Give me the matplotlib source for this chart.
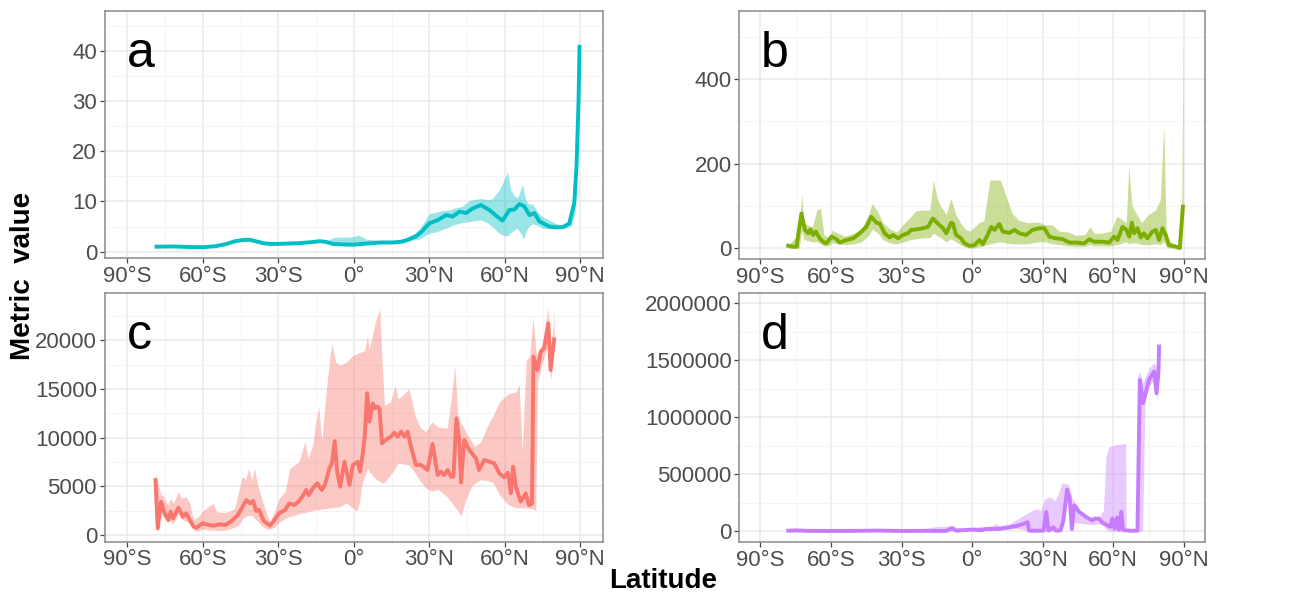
import numpy as np
import matplotlib
matplotlib.use("Agg")
import matplotlib.pyplot as plt
from matplotlib.ticker import FixedLocator, FuncFormatter
from matplotlib.transforms import blended_transform_factory

plt.rcParams['font.family'] = ['Liberation Sans', 'DejaVu Sans']

# ---- panel a (cyan) ----
a_lat = [-78.4, -72, -66, -60, -55, -51, -47, -44, -41.5, -39, -36, -33, -28, -22, -17,
         -13.5, -11, -8.2, -4, -0.3, 3, 7, 11.5, 16, 19, 21, 23, 24.8, 27, 30, 33.4,
         36.7, 39.3, 42, 44.6, 47.2, 50.5, 53.9, 57, 59.1, 61.8, 63.8, 65.8, 67.8, 69.8,
         71.8, 73.8, 77.8, 81, 83, 85.6, 87.6, 88.5, 89.3, 89.7]
a_mean = [1.0, 1.05, 0.95, 0.9, 1.1, 1.5, 2.1, 2.35, 2.4, 2.1, 1.7, 1.55, 1.6, 1.7, 1.9,
          2.1, 1.95, 1.55, 1.45, 1.4, 1.55, 1.7, 1.85, 1.85, 2.0, 2.3, 2.7, 3.1, 4.0, 5.65, 6.3,
          7.3, 7.0, 8.0, 7.7, 8.6, 9.3, 8.3, 7.0, 6.2, 8.3, 8.4, 9.5, 9.0, 7.3,
          7.7, 6.0, 5.0, 4.85, 4.9, 5.6, 9.7, 16.9, 30.0, 40.8]
a_band_lat = [-78.4, -70, -60, -55, -48, -43, -38, -34, -25, -13, -10, -8, -4, -1, 2, 5, 10,
              15, 20, 24, 26, 28, 30, 33, 35, 38, 40, 43, 46, 48, 50.5, 53, 55, 57.8, 59,
              61.1, 62.4, 64, 65.1, 67.1, 67.6, 68.4, 69.5, 71, 73, 75, 78, 80.4, 84.2,
              86.5, 88, 89, 89.7]
a_hi = [1.15, 1.15, 1.05, 1.3, 2.5, 2.65, 2.1, 1.75, 1.8, 2.35, 2.3, 2.9, 2.9, 2.95, 3.3, 2.5, 2.3,
        2.2, 2.6, 3.6, 4.5, 6.0, 7.6, 7.9, 8.2, 8.3, 8.7, 9.0, 10.2, 10.4, 10.6, 10.4, 10.5, 12.3, 13.5,
        15.9, 12.3, 11.0, 10.8, 13.4, 12.0, 10.2, 9.5, 9.5, 8.0, 7.0, 6.2, 5.6, 5.1,
        6.5, 10.0, 25.0, 44.3]
a_lo = [0.85, 0.85, 0.75, 0.95, 1.8, 2.2, 1.7, 1.35, 1.4, 1.9, 1.55, 1.3, 1.2, 1.15, 1.3, 1.45, 1.6,
        1.6, 1.85, 2.4, 2.5, 3.1, 3.7, 4.0, 4.4, 5.0, 5.4, 5.8, 6.0, 6.2, 6.3, 5.8, 5.0, 3.7, 3.3,
        3.1, 3.8, 4.4, 4.6, 3.0, 2.5, 4.0, 5.0, 5.6, 5.2, 4.7, 4.6, 4.6, 4.7,
        5.2, 8.0, 20.0, 38.0]

# ---- panel b (green) ----
b_lat = [-78.2, -76.1, -74.7, -72.6, -71.1, -69.7, -68.7, -67.6, -66.5, -64.8,
         -63.4, -62, -59.8, -57.7, -56.3, -53.5, -50.6, -47.8, -45, -42.9,
         -40.7, -39.3, -37.2, -35.1, -33.7, -31.5, -29.4, -27.3, -25.9, -23.8,
         -20.9, -18.8, -16.7, -14.6, -12.4, -11, -8.9, -8.2, -6.8, -4.7,
         -3.3, -1.1, 1, 3.1, 4.5, 6.6, 8.1, 9.5, 11.6, 13,
         15.8, 18, 20.1, 22.9, 25.7, 28.6, 30.7, 32.8, 35.6, 38.5,
         41.3, 44.1, 47.7, 49.8, 51.9, 55.4, 58.3, 60.4, 61.8, 63.9,
         65.6, 66.8, 67.9, 68.9, 70.3, 71.7, 73.1, 74.5, 76.7, 78.1,
         79.5, 80.9, 82.3, 83.7, 86.6, 88.3, 89.6]
b_mean = [5.5, 3, 3, 82, 43, 35, 44, 31, 39, 23,
          15, 11, 27, 21, 13, 19, 23, 35, 50, 74,
          60, 58, 35, 25, 31, 23, 31, 35, 43, 44,
          47, 50, 70, 58, 47, 35, 60, 58, 31, 23,
          11, 5, 7, 19, 9, 31, 50, 43, 57, 39,
          36, 43, 35, 31, 43, 47, 47, 27, 23, 21,
          13, 13, 11, 21, 15, 15, 13, 27, 19, 50,
          43, 27, 60, 35, 47, 25, 35, 23, 39, 43,
          19, 47, 31, 7, 3, 0, 98]
b_band_lat = [-78.2, -76, -73.5, -72.5, -71.5, -70, -68, -66, -64.5, -63,
              -61, -59.5, -57, -54, -50, -47, -44, -42.5, -40, -38,
              -35, -32, -29, -26, -24, -21, -18, -16.5, -15, -13.5,
              -11, -9, -7, -5, -3, -1, 1, 3, 5, 7.5,
              12, 14, 17, 20, 24, 28, 31, 34, 37, 41,
              44, 48, 50, 52, 55, 57, 59, 61.5, 63, 65.5,
              66.6, 68, 70, 72, 75, 78, 80, 81.5, 82.5, 84,
              87, 89, 89.7]
b_hi = [8, 20, 30, 129, 60, 55, 50, 90, 94, 31,
        24, 42, 35, 28, 36, 45, 80, 106, 85, 60,
        45, 38, 58, 75, 88, 90, 90, 161, 120, 100,
        80, 118, 80, 60, 45, 40, 50, 60, 65, 161,
        161, 130, 82, 65, 60, 62, 55, 55, 40, 38,
        30, 32, 50, 35, 35, 38, 40, 75, 70, 60,
        193, 100, 80, 60, 80, 90, 114, 291, 40, 15,
        8, 5, 508]
b_lo = [0, 0, 0, 40, 20, 18, 15, 15, 10, 5,
        5, 12, 10, 8, 10, 15, 30, 45, 35, 20,
        12, 10, 15, 20, 22, 24, 25, 35, 30, 25,
        15, 22, 15, 8, 3, 0, 0, 3, 5, 10,
        15, 12, 10, 10, 10, 15, 15, 10, 8, 5,
        4, 4, 8, 5, 5, 5, 5, 8, 10, 15,
        10, 12, 12, 8, 8, 10, 8, 15, 3, 0,
        0, 0, 90]

# ---- panel c (red) ----
c_lat = [-78.8, -77.9, -76.6, -75.2, -73.7, -72.8, -71.8, -69.7, -67.9, -66.7, -65.5,
         -63.7, -62.5, -60, -57.6, -55.8, -53.3, -50.9, -48.5, -46.1, -44.2, -42.7,
         -41.2, -40, -38.8, -37.6, -35.8, -33.3, -31.5, -29.7, -27.3, -25.7, -23.6,
         -21.8, -20, -19, -17.9, -16.3, -14.5, -12.7, -11.5, -9.7, -8.7, -7.6, -6.6,
         -5.4, -3.7, -1.7, -0.4, 1.6, 2.5, 3.6, 4.4, 5.3, 6.2, 7.5, 8.5, 9.3, 10.2,
         11.2, 13.5, 14.8, 16.1, 17.4, 18.8, 20.1, 21.4, 22.7, 24.7, 26.7, 29.3, 31.3,
         33.3, 34.6, 35.9, 37.3, 38.6, 39.6, 40.8, 41.9, 42.6, 43.9, 45.9, 48.5, 49.8,
         51.8, 53.8, 55.8, 57.8, 59.7, 61.1, 61.7, 62.4, 63.3, 64.4, 66.3, 68.3, 69.6,
         70.8, 71.4, 73, 74.3, 75.6, 77.3, 78.2, 79.6]
c_mean = [5640, 680, 3420, 2220, 1540, 2390, 1710, 2800, 1880, 2220, 1710,
          855, 750, 1200, 1030, 960, 1090, 1030, 1440, 2050, 2900, 3590,
          3250, 3490, 2460, 2570, 1440, 960, 1540, 2220, 2570, 3250, 3080,
          3490, 4100, 4620, 4100, 4790, 5300, 4620, 5130, 6840, 7350, 9640, 6500,
          4960, 7530, 5140, 7190, 7530, 6510, 8390, 10275, 14560, 11645, 13530, 13015, 13190, 13015,
          9420, 9930, 10100, 10515, 10100, 10620, 10100, 10620, 9080, 7190, 7190, 6680, 9350,
          6165, 6510, 6165, 6680, 5990, 5990, 11990, 9760, 5380, 9760, 8730, 7880, 6680,
          7700, 7530, 7360, 6340, 5930, 6400, 5650, 4280, 7020, 4970, 3425, 4280, 3080,
          3200, 18320, 16950, 18840, 19180, 21750, 16950, 20100]
c_band_lat = [-78.8, -77.9, -76.6, -75.8, -74, -72.8, -71.8, -69.7, -68.5, -66.7,
              -65.2, -63.7, -61.8, -60, -57, -55.8, -54.5, -52, -49.7, -47.3,
              -45.5, -44.3, -43, -41.8, -40.6, -39.4, -38.2, -36.4, -34.5, -33.3,
              -31.5, -29.7, -27.3, -25.4, -23.6, -21.8, -19.4, -18.2, -16.3, -15.1,
              -13.9, -12.7, -11.5, -10.3, -8.8, -7.2, -5.5,
              -3, -0.6, 1.2, 2.4, 3, 4.3, 5.5, 6.1, 8.5, 10.3,
              11.2, 12.2, 14.6, 16.4, 17.6, 19.5, 21.9, 24.3, 26.2, 28.6,
              31, 33.5, 37.1, 38.9, 40.1, 41.4, 42.6, 43.2, 44.4, 45.6,
              46.8, 48.1, 50.5, 52.9, 55.4, 57.8, 61.4, 64.5, 65.7, 66.9,
              68.5, 70, 71.2, 72.3, 73, 73.6, 75, 77.2, 78.2, 78.5, 79.6]
c_hi = [6330, 5470, 4100, 4100, 3080, 3760, 3250, 4450, 3760, 3930,
        3250, 1540, 1880, 2460, 3080, 3250, 2390, 2300, 2400, 2740,
        4790, 5990, 5700, 6840, 5600, 6840, 5130, 3590, 2050, 1370,
        2390, 3760, 4450, 6840, 7180, 7520, 9580, 7870, 9230, 11630,
        13170, 9580, 13340, 16400, 19670, 17780, 17440,
        17750, 18400, 18600, 18770, 18800, 18940, 20470, 19000, 21830, 23190,
        18000, 13330, 13670, 15370, 14000, 14350, 15030, 12300, 11100, 10600,
        11630, 11100, 10950, 14350, 17400, 12300, 11300, 11300, 10600, 10100,
        9600, 9080, 9600, 11100, 12300, 13670, 14500, 14700, 15500, 8570,
        17900, 18500, 22500, 19000, 18500, 19000, 19500, 23360, 19000, 19000, 23000]
c_lo = [4800, 300, 2500, 2000, 1300, 1500, 1100, 2200, 1600, 1400,
        1400, 500, 400, 600, 500, 500, 450, 450, 600, 800,
        1100, 1600, 1900, 2000, 2000, 1700, 1400, 900, 600, 600,
        800, 1300, 1700, 1900, 2000, 2200, 2300, 2400, 2500, 2600,
        2600, 2650, 2700, 2750, 2800, 2850, 2900,
        3300, 2800, 2450, 3500, 5000, 6000, 6870, 6500, 5800, 5500,
        5340, 5400, 6190, 6800, 7380, 7300, 7200, 6400, 5600, 4830,
        4490, 4700, 3900, 3300, 2900, 2500, 1940, 2500, 3470, 4300,
        5000, 5300, 5680, 5600, 5400, 4150, 3130, 2790, 2790, 2790,
        2790, 2700, 2700, 2500, 15800, 16200, 17800, 19500, 16000, 16300, 19500]

# ---- panel d (purple) ----
d_lat = [-78.2, -75, -70, -60, -50, -40, -30, -20, -11, -8.5, -6.7, -4.8, 0, 3.6, 6.1,
         10.9, 15.8, 19.4, 21.8, 23.6, 24.2, 30.3, 31.5, 32.5, 34.5, 35.8, 37.6, 38.8,
         40.4, 41.5, 42.4, 43.4, 45.5, 48.5, 50.9, 52.1, 53.9, 55.2, 57, 58.8, 59.6,
         60.6, 61.6, 62.4, 63.4, 64.2, 66.8, 70.3, 71.3, 72.7, 75.2, 77.4, 78.4, 79.2, 79.5]
d_mean = [5000, 8000, 4000, 3000, 4000, 6000, 3000, 4000, 3000, 28000, 5000, 8000, 15000, 10000, 20000,
          20000, 35000, 50000, 65000, 80000, 5000, 5000, 170000, 5000, 35000, 5000, 8000, 94000,
          366000, 285000, 20000, 228000, 170000, 125000, 96000, 111000, 111000, 79000, 59000, 38000, 111000,
          24000, 120000, 15000, 170000, 12000, 5000, 5000, 1327500, 1123000, 1327500, 1400600, 1210600,
          1386000, 1620000]
d_band_lat = [-78.2, -30, -18.2, -15.8, -13.3, -9.7, -7.3, -3.6, 0, 3.6, 8.5, 10.3, 11.5,
              15.8, 18.2, 20.6, 23, 25.5, 27.9, 29.1, 30.9, 33.3, 35.2, 36.4, 38.2, 40,
              41.2, 42.4, 43.6, 46.1, 47.9, 49.7, 52.1, 53.9, 55.8, 57, 58.2, 60.6, 63,
              65.3, 65.5, 70, 70.5, 71.3, 72.5, 73.5, 75.2, 77.4, 78.8, 79.5]
d_hi = [10000, 10000, 29400, 41000, 44000, 47000, 35000, 29400, 35000, 41000, 47000, 70600, 47000,
        65000, 94000, 123500, 153000, 182000, 197000, 182000, 285000, 300000, 270000, 315000, 423500, 417600,
        403000, 294000, 256000, 182000, 153000, 123500, 125000, 120000, 182000, 667600, 741000, 755800, 764600,
        772000, 10000, 10000, 1356700, 1400000, 1300000, 1350000, 1430000, 1480000, 1420000, 1680000]
d_lo = [0, 0, 0, 0, 0, 5000, 0, 3000, 5000, 5000, 8000, 10000, 10000,
        20000, 25000, 20000, 5000, 0, 0, 0, 0, 0, 0, 0, 20000, 300000,
        200000, 0, 80000, 70000, 65000, 60000, 60000, 65000, 50000, 20000, 0, 0, 0,
        0, 0, 0, 0, 0, 0, 1150000, 1270000, 1340000, 1140000, 1530000]

lat_major = [-90, -60, -30, 0, 30, 60, 90]
lat_minor = [-75, -45, -15, 15, 45, 75]


def lat_label(v, pos=None):
    v = int(round(v))
    if v == 0:
        return '0°'
    return f"{abs(v)}°{'N' if v > 0 else 'S'}"


def draw_panel(rect, lat, mean, band_lat, lo, hi, color, ylim, ymajor, yminor, letter):
    ax = fig.add_axes(rect)
    ax.fill_between(band_lat, lo, hi, color=color, alpha=0.4, lw=0, zorder=2)
    ax.plot(lat, mean, color=color, lw=2.8, solid_joinstyle='round', zorder=3)
    ax.set_xlim(-99, 99)
    ax.set_ylim(*ylim)
    ax.xaxis.set_major_locator(FixedLocator(lat_major))
    ax.xaxis.set_minor_locator(FixedLocator(lat_minor))
    ax.xaxis.set_major_formatter(FuncFormatter(lat_label))
    ax.yaxis.set_major_locator(FixedLocator(ymajor))
    ax.yaxis.set_minor_locator(FixedLocator(yminor))
    ax.yaxis.set_major_formatter(FuncFormatter(lambda v, p: f"{int(round(v))}"))
    ax.grid(which='major', color='#EBEBEB', lw=1.1, zorder=0)
    ax.grid(which='minor', color='#F4F4F4', lw=0.7, zorder=0)
    ax.set_axisbelow(True)
    ax.tick_params(which='major', length=3.5, width=0.9, color='#444444',
                   labelsize=16, labelcolor='#4D4D4D', pad=2)
    ax.tick_params(which='minor', length=0)
    for s in ax.spines.values():
        s.set_color('#8A8A8A')
        s.set_linewidth(1.1)
    tr = blended_transform_factory(ax.transData, ax.transAxes)
    ax.text(-90, 0.774, letter, transform=tr, fontsize=36, ha='left', va='baseline', color='black')
    return ax


fig = plt.figure(figsize=(13, 5.96), dpi=100)

draw_panel([0.0805, 0.5671, 0.3833, 0.4151], a_lat, a_mean, a_band_lat, a_lo, a_hi, '#00BFC4',
           (-1.25, 48), [0, 10, 20, 30, 40], [5, 15, 25, 35, 45], 'a')
draw_panel([0.5687, 0.5654, 0.3582, 0.4166], b_lat, b_mean, b_band_lat, b_lo, b_hi, '#7CAE00',
           (-26, 562), [0, 200, 400], [100, 300, 500], 'b')
draw_panel([0.0805, 0.0911, 0.3833, 0.4168], c_lat, c_mean, c_band_lat, c_lo, c_hi, '#F8766D',
           (-690, 24830), [0, 5000, 10000, 15000, 20000], [2500, 7500, 12500, 17500, 22500], 'c')
draw_panel([0.5687, 0.0901, 0.3582, 0.4180], d_lat, d_mean, d_band_lat, d_lo, d_hi, '#C77CFF',
           (-96500, 2088000), [0, 500000, 1000000, 1500000, 2000000],
           [250000, 750000, 1250000, 1750000], 'd')

fig.text(0.018, 0.537, 'Metric  value', rotation=90, fontsize=20, fontweight='bold',
         ha='center', va='center')
fig.text(0.51, 0.026, 'Latitude', fontsize=20, fontweight='bold', ha='center', va='center')

fig.savefig('out.png', dpi=100)
